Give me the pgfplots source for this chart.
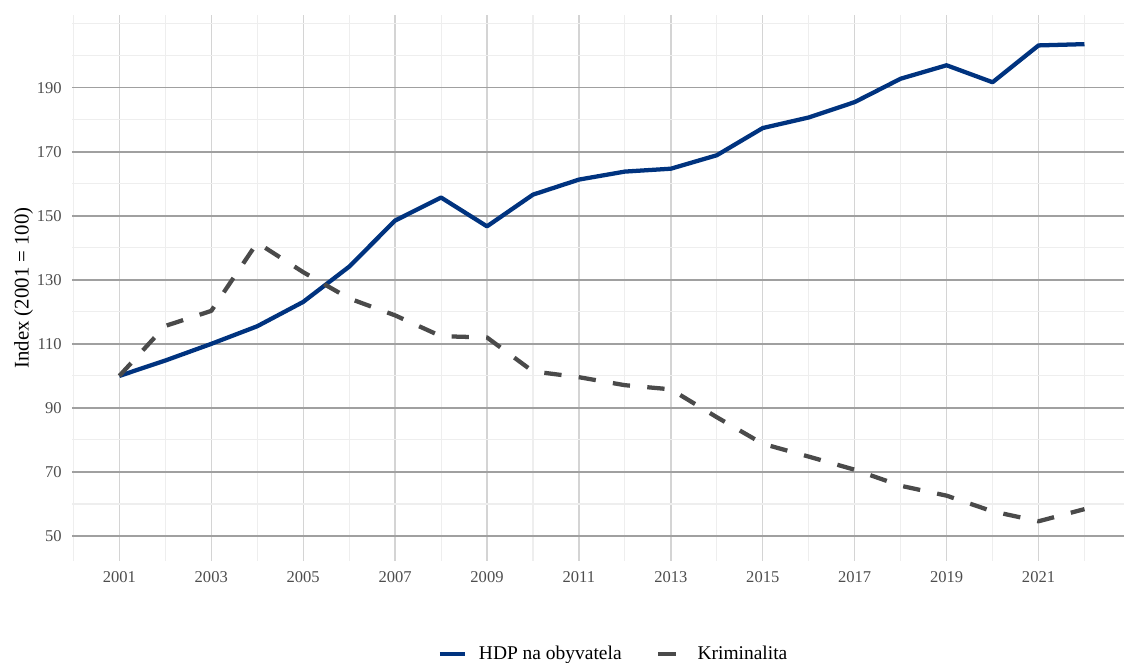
\documentclass[border=0pt]{standalone}
\usepackage{pgfplots}
\pgfplotsset{compat=1.18}
\usepackage{fontspec}
\setmainfont{Liberation Serif}
\definecolor{hdpblue}{HTML}{00337F}
\definecolor{krimgray}{HTML}{4A4A4A}
\definecolor{tickgray}{HTML}{4D4D4D}
\definecolor{gridmajh}{HTML}{A0A0A0}
\definecolor{gridmajv}{HTML}{D4D4D4}
\definecolor{gridmin}{HTML}{EEEEEE}
\begin{document}
\begin{tikzpicture}
\useasboundingbox (-54pt,-76.5pt) rectangle (789pt,420.75pt);
\begin{axis}[
  name=ax,
  at={(0,0)}, anchor=south west,
  scale only axis, width=789pt, height=409.5pt,
  xmin=1999.97, xmax=2022.86, ymin=42.2, ymax=212.7,
  axis line style={draw=none},
  major tick length=0pt, minor tick length=0pt,
  xtick={2001,2003,...,2021},
  minor xtick={2000,2002,...,2022},
  ytick={50,70,...,190},
  minor ytick={60,80,...,200,210},
  xticklabel={\pgfmathprintnumber[1000 sep={}]{\tick}},
  /pgf/number format/assume math mode=true,
  /pgf/number format/1000 sep={},
  xmajorgrids, ymajorgrids, xminorgrids, yminorgrids,
  major x grid style={color=gridmajv, line width=1pt},
  major y grid style={color=gridmajh, line width=1.2pt},
  minor x grid style={color=gridmin, line width=0.8pt},
  minor y grid style={color=gridmin, line width=0.8pt},
  tick label style={font=\fontsize{12.4}{14}\selectfont, text=tickgray},
  xticklabel style={anchor=north, inner sep=0pt, yshift=-7.5pt},
  yticklabel style={anchor=east, inner sep=0pt, xshift=-7.5pt},
  ylabel={Index (2001 = 100)},
  every axis y label/.style={at={(axis description cs:-0.0461,0.5)}, rotate=90, anchor=center, font=\fontsize{15.6}{18}\selectfont},
  legend columns=2,
  legend style={draw=none, fill=none, at={(0.5138,-0.1703)}, anchor=center,
    font=\fontsize{14.6}{17}\selectfont,
    /tikz/every odd column/.append style={column sep=9pt},
    /tikz/every even column/.append style={column sep=26pt},
    nodes={inner sep=0pt}},
  legend image code/.code={\draw[#1] (0pt,0pt) -- (18.75pt,0pt);},
  line join=round,
]
\addplot[hdpblue, line width=3.2pt] coordinates {
(2001,100.0) (2002,104.8) (2003,110.0) (2004,115.5) (2005,123.1)
(2006,134.1) (2007,148.5) (2008,155.7) (2009,146.7) (2010,156.6)
(2011,161.3) (2012,163.8) (2013,164.7) (2014,168.9) (2015,177.4)
(2016,180.7) (2017,185.5) (2018,192.8) (2019,197.0) (2020,191.7)
(2021,203.2) (2022,203.6)
};
\addlegendentry{HDP na obyvatela}
\addplot[krimgray, line width=3.2pt, dash pattern=on 13pt off 13pt] coordinates {
(2001,100.0) (2002,115.6) (2003,120.3) (2004,141.6) (2005,132.4)
(2006,124.2) (2007,118.9) (2008,112.4) (2009,112.0) (2010,101.4)
(2011,99.6) (2012,97.1) (2013,95.8) (2014,87.1) (2015,78.8)
(2016,74.8) (2017,70.7) (2018,65.7) (2019,62.6) (2020,57.7)
(2021,54.6) (2022,58.4)
};
\addlegendentry{Kriminalita}
\end{axis}
\end{tikzpicture}
\end{document}
